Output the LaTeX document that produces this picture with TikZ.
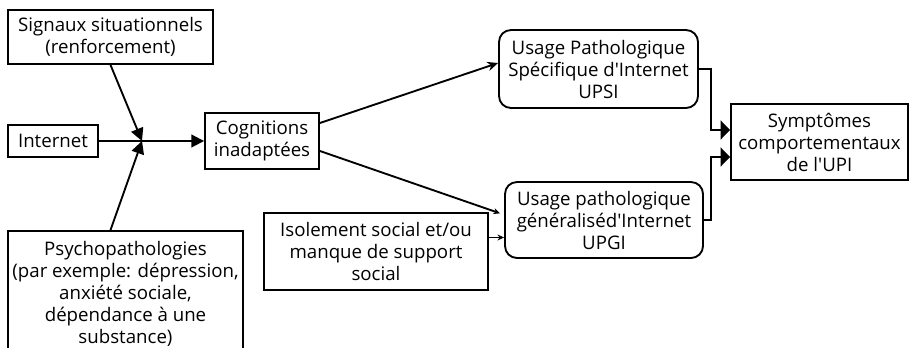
\documentclass[tikz,border=0pt]{standalone}
\usepackage{fontspec}
\setmainfont{Open Sans}
\usepackage{tikz}
\usetikzlibrary{arrows.meta, positioning, calc}

\begin{document}
\begin{tikzpicture}[x=0.75pt, y=-0.75pt, line width=1.4pt,
    every node/.style={font=\fontsize{14}{16.5}\selectfont, align=center, inner sep=1pt},
    sqbox/.style={draw, rectangle},
    rndbox/.style={draw, rectangle, rounded corners=9pt},
    bigarrow/.style={-{Triangle[length=9.5pt, width=9.5pt]}},
    tallarrow/.style={-{Triangle[length=7pt, width=14pt]}},
    midarrow/.style={-{Stealth[length=8pt, width=7pt]}},
    thinarrow/.style={-{Stealth[length=5pt, width=4.5pt]}}]
    \useasboundingbox (0,0) rectangle (910,347);
    % left column: the three causes
    \node[sqbox, minimum width=153.75pt, minimum height=40.5pt] (sig) at (110.5,37)
          {Signaux situationnels\\(renforcement)};
    \node[sqbox, minimum width=67.5pt, minimum height=24pt] (inet) at (53,141) {Internet};
    \node[sqbox, minimum width=176.25pt, minimum height=93.75pt] (psy) at (125.5,293.5)
          {Psychopathologies\\(par exemple: dépression,\\anxiété sociale,\\dépendance à une\\substance)};
    % middle
    \node[sqbox, minimum width=85.5pt, minimum height=42pt] (cog) at (262,141)
          {Cognitions\\inadaptées};
    \node[sqbox, minimum width=168pt, minimum height=57.75pt] (iso) at (376,251.5)
          {Isolement social et/ou\\manque de support\\social};
    % right: the two usages and the symptoms
    \node[rndbox, minimum width=149.25pt, minimum height=58.5pt] (upsi) at (598.5,69)
          {Usage Pathologique\\Spécifique d\textquotesingle Internet\\UPSI};
    \node[rndbox, minimum width=148.5pt, minimum height=57pt] (upgi) at (604,220)
          {Usage pathologique\\généraliséd\textquotesingle Internet\\UPGI};
    \node[sqbox, minimum width=132.75pt, minimum height=57pt] (sym) at (819.5,142)
          {Symptômes\\comportementaux\\de l\textquotesingle UPI};
    % junction where the causes meet
    \coordinate (join) at (142,141);
    % connectors
    \draw[bigarrow] (sig.south) -- (join);
    \draw[bigarrow] (sig.south |- psy.north) -- (join);
    \draw[bigarrow] (inet) -- (cog);
    \draw[midarrow] ([yshift=13.5pt]cog.east) -- ([yshift=4.5pt]upsi.west);
    \draw[thinarrow] ([yshift=-7.5pt]cog.east) -- ([xshift=-3pt,yshift=5pt]upgi.west);
    \draw[thinarrow] ([yshift=10.5pt]iso.east) -- ([yshift=10.5pt]iso.east -| upgi.west);
    \draw[tallarrow] (upsi.east) -| ([xshift=-14.25pt,yshift=9pt]sym.west)
          -- ([yshift=9pt]sym.west);
    \draw[tallarrow] (upgi.east) -| ([xshift=-14.25pt,yshift=-11.25pt]sym.west)
          -- ([yshift=-11.25pt]sym.west);
\end{tikzpicture}
\end{document}
